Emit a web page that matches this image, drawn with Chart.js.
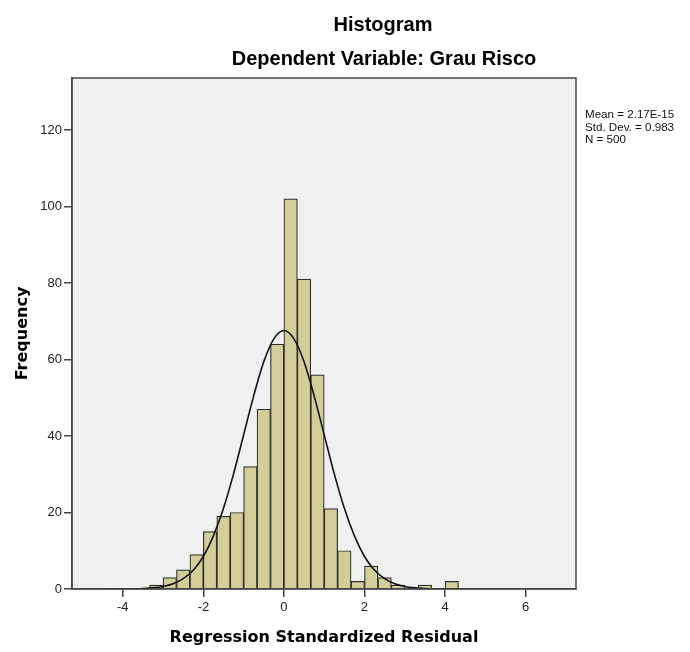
<!DOCTYPE html>
<html>
<head>
<meta charset="utf-8">
<script src="https://cdn.jsdelivr.net/npm/chart.js@4.4.1/dist/chart.umd.min.js"></script>
<style>
  body { margin: 0; background: #fff; }
  canvas { display: block; }
</style>
</head>
<body>
<canvas id="grafico" width="690" height="652"></canvas>
<script>
// histogram bins (centres, bin width about 1/3) and counts
var binCentres = [-3.1667, -2.8333, -2.5, -2.1667, -1.8333, -1.5, -1.1667, -0.8333, -0.5, -0.1667,
                  0.1667, 0.5, 0.8333, 1.1667, 1.5, 1.8333, 2.1667, 2.5, 2.8333, 3.1667, 3.5, 3.8333, 4.1667];
var frecuencias = [1, 3, 5, 9, 15, 19, 20, 32, 47, 64, 102, 81, 56, 21, 10, 2, 6, 3, 1, 0, 1, 0, 2];

// normal curve
var curvaX = [-4.5, -4, -3.75, -3.5, -3.25, -3, -2.75, -2.5, -2.25, -2, -1.75, -1.5, -1.25, -1, -0.75, -0.5, -0.25, 0,
              0.25, 0.5, 0.75, 1, 1.25, 1.5, 1.75, 2, 2.25, 2.5, 2.75, 3, 3.25, 3.5, 3.75, 4, 4.5];
var curvaY = [0, 0.02, 0.05, 0.12, 0.29, 0.64, 1.35, 2.7, 4.9, 8.5, 13.9, 21.1, 30.1, 40.3, 50.5, 59.4, 65.4, 67.6,
              65.4, 59.4, 50.5, 40.3, 30.1, 21.1, 13.9, 8.5, 4.9, 2.7, 1.35, 0.64, 0.29, 0.12, 0.05, 0.02, 0];

var ticksX = [-4, -2, 0, 2, 4, 6];
var ticksY = [0, 20, 40, 60, 80, 100, 120];
var estadisticas = ['Mean = 2.17E-15', 'Std. Dev. = 0.983', 'N = 500'];

var fuente = "'Liberation Sans', Arial, sans-serif";

var barras = [];
for (var i = 0; i < binCentres.length; i++) {
    barras.push({ x: binCentres[i], y: frecuencias[i] });
}
var curva = [];
for (var j = 0; j < curvaX.length; j++) {
    curva.push({ x: curvaX[j], y: curvaY[j] });
}

var textos = {
    id: 'textos',
    beforeDraw: function(chart) {
        var a = chart.chartArea, c = chart.ctx;
        c.save();
        c.fillStyle = '#f0f0f0';
        c.fillRect(a.left, a.top, a.right - a.left, a.bottom - a.top);
        c.restore();
    },
    afterDraw: function(chart) {
        var a = chart.chartArea, c = chart.ctx;
        c.save();
        c.strokeStyle = '#4a4a4a';
        c.lineWidth = 1.5;
        c.strokeRect(a.left, a.top, a.right - a.left, a.bottom - a.top);

        c.fillStyle = '#000';
        c.textAlign = 'center';
        c.textBaseline = 'alphabetic';
        c.font = 'bold 20px ' + fuente;
        c.fillText('Histogram', 383, 31);
        c.fillText('Dependent Variable: Grau Risco', 384, 65);

        c.font = "bold 16px 'DejaVu Sans', sans-serif";
        c.fillText('Regression Standardized Residual', (a.left + a.right) / 2, 642);
        c.translate(27, (a.top + a.bottom) / 2);
        c.rotate(-Math.PI / 2);
        c.fillText('Frequency', 0, 0);
        c.restore();

        c.save();
        c.fillStyle = '#111';
        c.font = '11.6px ' + fuente;
        c.textAlign = 'left';
        for (var k = 0; k < estadisticas.length; k++) {
            c.fillText(estadisticas[k], 585, 118 + k * 12.5);
        }
        c.restore();
    }
};

new Chart(document.getElementById('grafico'), {
    type: 'bar',
    data: {
        datasets: [{
            type: 'line',
            data: curva,
            borderColor: '#111',
            borderWidth: 1.6,
            pointRadius: 0,
            fill: false,
            cubicInterpolationMode: 'monotone',
            order: 0
        }, {
            type: 'bar',
            data: barras,
            backgroundColor: '#d3ce97',
            borderColor: '#2e2e2e',
            borderWidth: 1.2,
            categoryPercentage: 1.0,
            barPercentage: 1.0,
            order: 1
        }]
    },
    options: {
        responsive: false,
        animation: false,
        layout: { padding: { top: 78, right: 114, left: 0, bottom: 0 } },
        plugins: { legend: { display: false }, tooltip: { enabled: false }, title: { display: false } },
        scales: {
            x: {
                type: 'linear',
                min: -5.26,
                max: 7.25,
                offset: false,
                afterFit: function(s) { s.height = 63; },
                afterBuildTicks: function(s) { s.ticks = ticksX.map(function(v) { return { value: v }; }); },
                grid: { offset: false, drawOnChartArea: false, drawTicks: true, tickLength: 8, tickColor: '#444', lineWidth: 1.5 },
                border: { display: true, color: '#4a4a4a', width: 1.5 },
                ticks: { color: '#222', padding: 3, maxRotation: 0, font: { family: fuente, size: 13 } }
            },
            y: {
                min: 0,
                max: 133.6,
                afterFit: function(s) { s.width = 72; },
                afterBuildTicks: function(s) { s.ticks = ticksY.map(function(v) { return { value: v }; }); },
                grid: { drawOnChartArea: false, drawTicks: true, tickLength: 8, tickColor: '#444', lineWidth: 1.5 },
                border: { display: true, color: '#4a4a4a', width: 1.5 },
                ticks: { color: '#222', padding: 2, font: { family: fuente, size: 13 } }
            }
        }
    },
    plugins: [textos]
});
</script>
</body>
</html>
